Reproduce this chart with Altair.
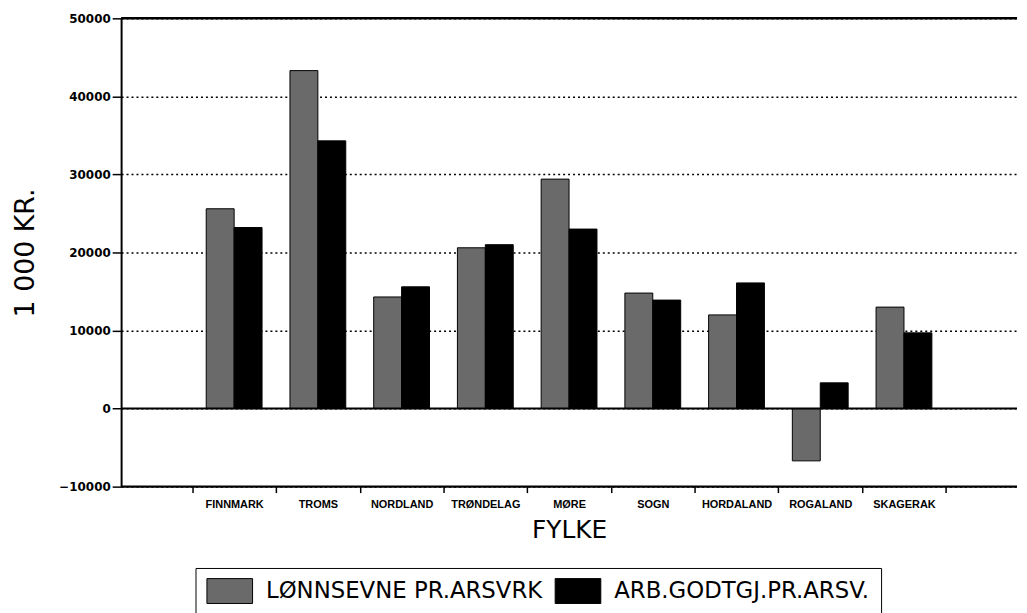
import altair as alt
import pandas as pd

fylker = ["FINNMARK", "TROMS", "NORDLAND", "TRØNDELAG", "MØRE", "SOGN",
          "HORDALAND", "ROGALAND", "SKAGERAK"]
lonnsevne = [25600, 43300, 14300, 20600, 29400, 14800, 12000, -6700, 13000]
arbgodtgj = [23200, 34300, 15600, 21000, 23000, 13900, 16100, 3300, 9700]
serier = ["LØNNSEVNE PR.ARSVRK", "ARB.GODTGJ.PR.ARSV."]
farger = ["#6a6a6a", "#000000"]
y_domain = [-10000, 50000]
y_ticks = [-10000, 0, 10000, 20000, 30000, 40000, 50000]

rows = []
for f, a, b in zip(fylker, lonnsevne, arbgodtgj):
    rows.append({"fylke": f, "serie": serier[0], "verdi": a})
    rows.append({"fylke": f, "serie": serier[1], "verdi": b})
df = pd.DataFrame(rows)

x_enc = alt.X(
    "fylke:N", sort=fylker,
    scale=alt.Scale(paddingInner=0, paddingOuter=0.85),
    axis=alt.Axis(
        title="FYLKE", tickBand="extent", labelAngle=0,
        labelFont="Liberation Sans", labelFontSize=11, labelFontWeight="bold",
        labelColor="black", tickColor="black", tickSize=6, tickWidth=1.5,
        domain=False, grid=False, labelPadding=6,
        titleFont="DejaVu Sans", titleFontSize=25, titleFontWeight="normal",
        titleColor="black", titlePadding=8,
    ),
)

y_scale = alt.Scale(domain=y_domain, nice=False, zero=False)

y_enc = alt.Y(
    "verdi:Q",
    scale=y_scale,
    axis=alt.Axis(
        values=y_ticks, format="d", title="1 000 KR.",
        titleFont="DejaVu Sans", titleFontSize=27, titleFontWeight="normal",
        titleColor="black", titleX=-96, titleBaseline="middle",
        labelFont="DejaVu Sans", labelFontSize=12, labelFontWeight="bold",
        labelColor="black", tickSize=9, tickColor="black", tickWidth=1.5,
        domainColor="black", domainWidth=2,
        grid=True, gridDash=[2, 3], gridColor="black", gridWidth=1.5,
        gridOpacity=1,
    ),
)

bars = alt.Chart(df).mark_bar(stroke="black", strokeWidth=1).encode(
    x=x_enc,
    xOffset=alt.XOffset("serie:N", sort=serier,
                        scale=alt.Scale(paddingInner=0, paddingOuter=0.5)),
    y=y_enc,
    color=alt.Color(
        "serie:N", sort=serier,
        scale=alt.Scale(domain=serier, range=farger),
        legend=alt.Legend(
            title=None, orient="none", legendX=75, legendY=554,
            direction="horizontal", strokeColor="black", fillColor="white",
            padding=11, labelFont="DejaVu Sans", labelFontSize=23,
            labelColor="black", labelOffset=36, columnPadding=10,
            labelLimit=0,
            symbolType="M-1,-1.09H3V1.09H-1Z", symbolSize=529,
            symbolStrokeColor="black", symbolStrokeWidth=1, symbolOpacity=1,
        ),
    ),
)

zero = alt.Chart(pd.DataFrame({"y": [0]})).mark_rule(
    color="black", strokeWidth=2
).encode(y=alt.Y("y:Q", scale=y_scale))

frame = alt.Chart(pd.DataFrame({"y": y_domain})).mark_rule(
    color="black", strokeWidth=2.5
).encode(y=alt.Y("y:Q", scale=y_scale))

chart = alt.layer(bars, zero, frame).properties(
    width=903, height=472,
    autosize=alt.AutoSizeParams(type="none"),
    padding={"left": 114, "top": 8, "right": 2, "bottom": 130},
).configure(background="white").configure_view(stroke=None)

chart.save("out.html", embed_options={"renderer": "svg", "actions": False})
